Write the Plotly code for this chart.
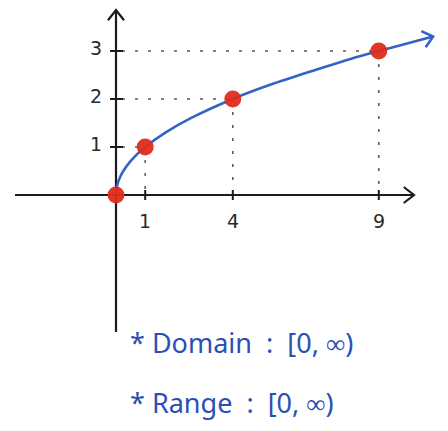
import math
import plotly.graph_objects as go

# Points on y = sqrt(x)
point_x = [0, 1, 4, 9]
point_y = [0, 1, 2, 3]

# Sampled curve through the points, running past x = 9 to the arrow tip
curve_x = [0, 0.04, 0.16, 0.36, 0.64, 1, 1.69, 2.56, 4, 5.3, 6.8, 8.0, 9, 10.0, 10.86]
curve_y = [0, 0.2, 0.4, 0.6, 0.8, 1, 1.3, 1.6, 2, 2.3, 2.6, 2.83, 3, 3.16, 3.3]

x_tick_vals = [1, 4, 9]
x_tick_text = ["1", "4", "9"]
y_tick_vals = [1, 2, 3]
y_tick_text = ["1", "2", "3"]

notes = ["* Domain  :  [0, ∞)", "* Range  :  [0, ∞)"]

W, H = 448, 431
X0_PX, PX_PER_X = 116, 29.2      # pixel column of x = 0, pixels per x unit
Y0_PX, PX_PER_Y = 195, 48.0      # pixel row of y = 0, pixels per y unit
x_range = [-X0_PX / PX_PER_X, (W - X0_PX) / PX_PER_X]
y_range = [-(H - Y0_PX) / PX_PER_Y, Y0_PX / PX_PER_Y]

def dx(px):
    return px / PX_PER_X

def dy(px):
    return px / PX_PER_Y

INK = "#1c1c1c"
BLUE = "#3463c6"
TEXT_BLUE = "#2b4fb4"
RED = "#de2c1c"
GUIDE = "#555555"

fig = go.Figure()

def seg(xs, ys, color=INK, width=2.2, dash=None):
    fig.add_trace(go.Scatter(x=xs, y=ys, mode="lines", hoverinfo="skip",
                             line=dict(color=color, width=width, dash=dash),
                             showlegend=False))

def chevron(tx, ty, ang, color, arm=13, spread=38, width=2.2):
    # open arrowhead at (tx, ty); ang is the pointing direction in screen degrees
    xs, ys = [], []
    for s in (spread, -spread):
        a = math.radians(ang + 180 + s)
        xs.append(tx + dx(arm * math.cos(a)))
        ys.append(ty + dy(arm * math.sin(a)))
    seg([xs[0], tx, xs[1]], [ys[0], ty, ys[1]], color=color, width=width)

# dotted guides from the axes to each point
for px_, py_ in zip(point_x[1:], point_y[1:]):
    seg([dx(6), px_], [py_, py_], color=GUIDE, width=1.5, dash="3px,10px")
    seg([px_, px_], [py_, dy(4)], color=GUIDE, width=1.5, dash="3px,10px")

# axes with open arrowheads
y_top, y_bot = dy(Y0_PX - 10), -dy(137)
x_left, x_right = -dx(101), dx(298)
seg([0, 0], [y_bot, y_top])
chevron(0, y_top, 90, INK)
seg([x_left, x_right], [0, 0])
chevron(x_right, 0, 0, INK)

# tick marks
for v in y_tick_vals:
    seg([-dx(6), dx(7)], [v, v], width=2)
for v in x_tick_vals:
    seg([v, v], [-dy(5), dy(5)], width=2)

# curve
fig.add_trace(go.Scatter(x=curve_x, y=curve_y, mode="lines", hoverinfo="skip",
                         line=dict(color=BLUE, width=2.6, shape="spline", smoothing=0.8),
                         showlegend=False))
ex0, ey0, ex1, ey1 = curve_x[-2], curve_y[-2], curve_x[-1], curve_y[-1]
end_ang = math.degrees(math.atan2((ey1 - ey0) * PX_PER_Y, (ex1 - ex0) * PX_PER_X))
chevron(ex1, ey1, end_ang, BLUE, arm=13, spread=40, width=2.6)

# points
fig.add_trace(go.Scatter(x=point_x, y=point_y, mode="markers", hoverinfo="skip",
                         marker=dict(color=RED, size=17, opacity=0.95, line=dict(width=0)),
                         showlegend=False))

annotations = []
for v, t in zip(y_tick_vals, y_tick_text):
    annotations.append(dict(x=-dx(20), y=v + dy(3), text=t, showarrow=False,
                            font=dict(family="DejaVu Sans", size=19, color="#2a2a2a")))
for v, t in zip(x_tick_vals, x_tick_text):
    annotations.append(dict(x=v, y=-dy(26), text=t, showarrow=False,
                            font=dict(family="DejaVu Sans", size=19, color="#2a2a2a")))
for i, t in enumerate(notes):
    annotations.append(dict(x=128 / W, y=1 - (342 + 60 * i) / H, xref="paper", yref="paper",
                            xanchor="left", yanchor="middle", text=t, showarrow=False,
                            font=dict(family="Noto Sans", size=27, color=TEXT_BLUE)))

fig.update_layout(
    width=W, height=H,
    margin=dict(l=0, r=0, t=0, b=0),
    paper_bgcolor="white", plot_bgcolor="white",
    xaxis=dict(range=x_range, visible=False, fixedrange=True),
    yaxis=dict(range=y_range, visible=False, fixedrange=True),
    annotations=annotations,
)

fig.write_html("out.html")
